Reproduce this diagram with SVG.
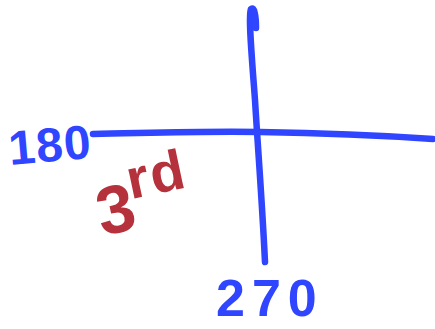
<svg xmlns="http://www.w3.org/2000/svg" width="435" height="329" viewBox="0 0 435 329">
<style>
.ink{fill:none;stroke:#2f45ff;stroke-width:6.5;stroke-linecap:round;stroke-linejoin:round}
.blue{fill:#2f45ff;font-family:"Liberation Sans",Arial,sans-serif;font-weight:bold}
.red{fill:#b5313c;font-family:"Liberation Sans",Arial,sans-serif;font-weight:bold}
</style>
<rect width="435" height="329" fill="#ffffff"/>
<g id="axes">
<path class="ink" d="M256,28 C256,15 254,6 251,9 C248,14 252,60 255,100 C258,150 262,200 265,262"/>
<path class="ink" d="M93,134 C150,133 200,131 260,132 C330,133 390,136 433,139"/>
</g>
<g id="label-180">
<text class="blue" x="10" y="165" font-size="48" letter-spacing="1" transform="rotate(-5 10 165)">180</text>
</g>
<g id="label-3rd">
<text class="red" x="102" y="236" font-size="68" transform="rotate(-12 102 236)">3<tspan font-size="56" dx="-2" dy="-30" letter-spacing="2">rd</tspan></text>
</g>
<g id="label-270">
<text class="blue" x="216" y="316" font-size="52" letter-spacing="7">270</text>
</g>
</svg>
